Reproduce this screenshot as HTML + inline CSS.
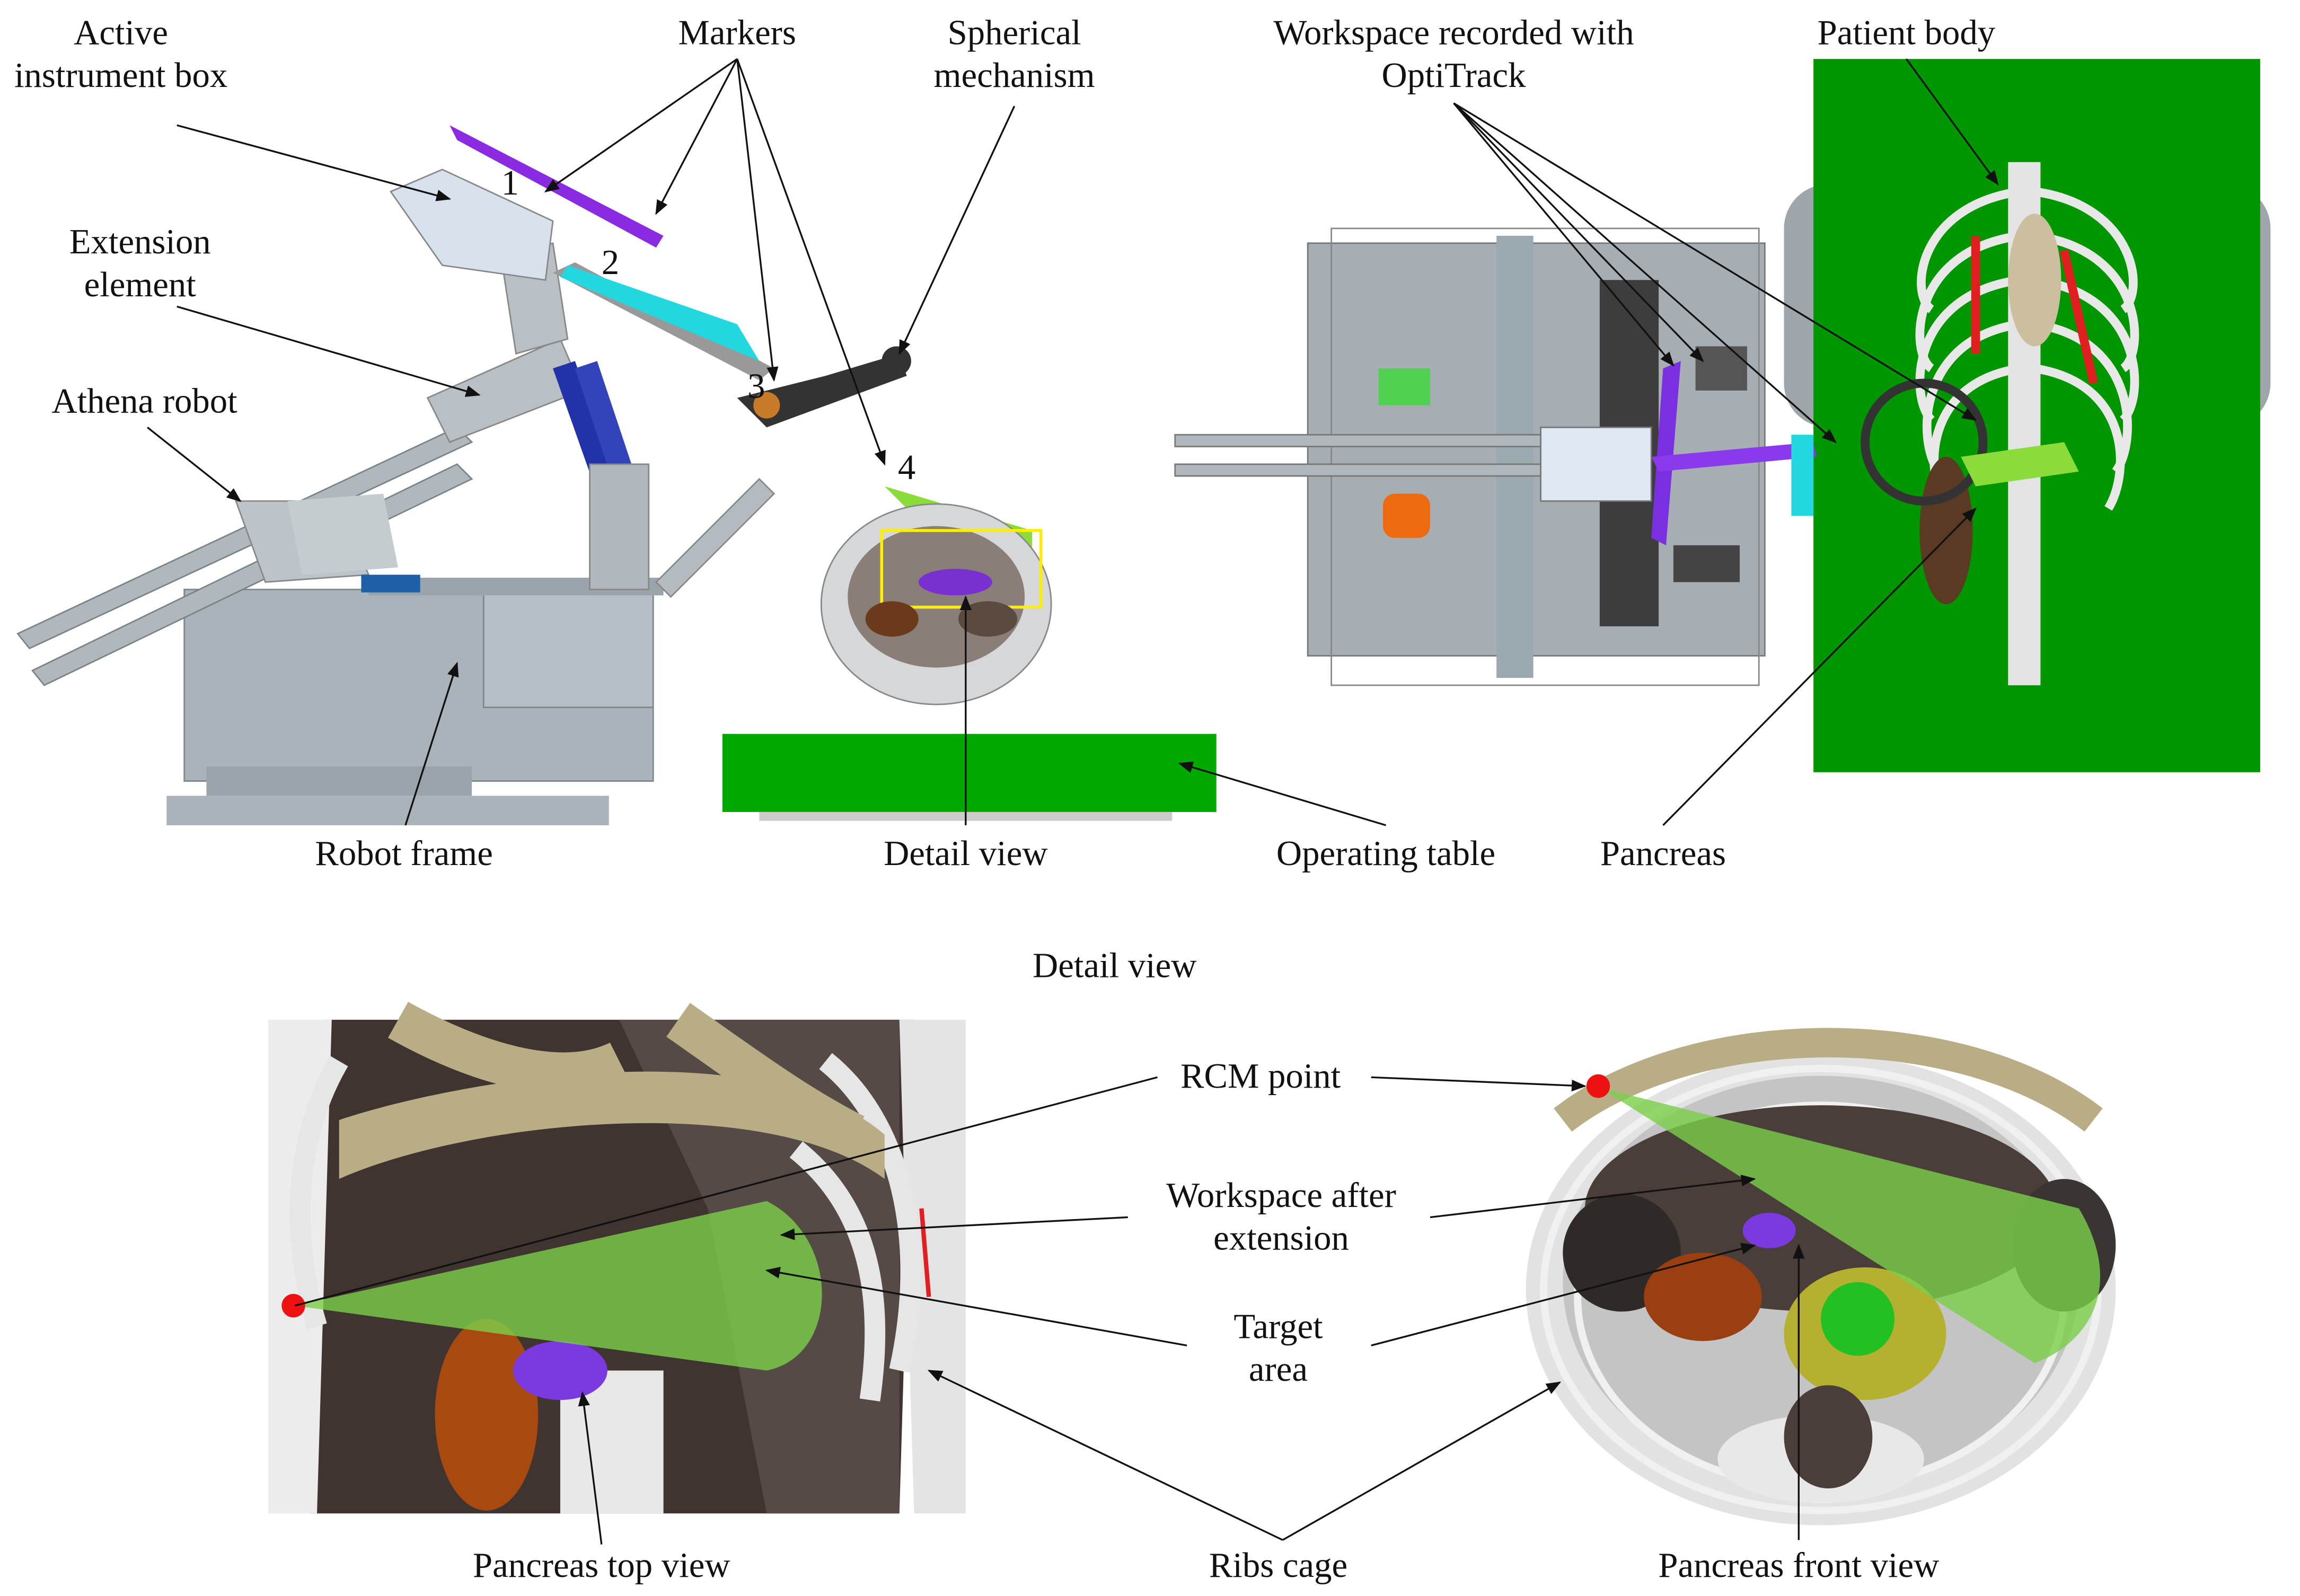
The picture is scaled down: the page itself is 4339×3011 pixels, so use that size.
<!DOCTYPE html>
<html><head><meta charset="utf-8"><style>
html,body{margin:0;padding:0;background:#fff}
svg{display:block}
text{font-family:"Liberation Serif",serif;font-size:24px;fill:#111}
</style></head><body>
<svg width="4339" height="3011" viewBox="0 0 1560 1083" preserveAspectRatio="none" xmlns="http://www.w3.org/2000/svg">
<defs><marker id="a" markerWidth="10" markerHeight="8" refX="9" refY="4" orient="auto" markerUnits="userSpaceOnUse"><path d="M0,0L10,4L0,8z" fill="#111"/></marker></defs>
<rect width="1560" height="1083" fill="#fff"/>

<!-- ===== Top-left robot ===== -->
<rect x="125" y="400" width="318" height="130" fill="#a9b3b9" stroke="#7d878c"/>
<rect x="328" y="400" width="115" height="80" fill="#b6bfc5" stroke="#7d878c"/>
<rect x="113" y="540" width="300" height="20" fill="#a9b3b9"/>
<rect x="140" y="520" width="180" height="20" fill="#9aa4aa"/>
<rect x="250" y="392" width="200" height="12" fill="#9aa4aa"/>
<polygon points="12,430 20,440 320,300 310,290" fill="#b0b8bd" stroke="#7a8388"/>
<polygon points="22,455 30,465 320,325 310,315" fill="#b0b8bd" stroke="#7a8388"/>
<polygon points="160,340 230,340 250,390 180,395" fill="#bcc4c9" stroke="#888"/>
<polygon points="195,340 260,335 270,385 205,390" fill="#c5ccd0"/>
<rect x="245" y="390" width="40" height="12" fill="#1f5fa8"/>
<polygon points="290,270 380,230 395,265 305,300" fill="#b8c0c5" stroke="#888"/>
<polygon points="375,250 390,245 420,330 405,335" fill="#2233aa"/>
<polygon points="390,250 405,245 430,320 415,325" fill="#3344bb"/>
<rect x="400" y="315" width="40" height="85" fill="#b0b8bd" stroke="#888"/>
<polygon points="340,175 375,165 385,230 350,240" fill="#b8c0c5" stroke="#888"/>
<polygon points="265,130 300,115 375,150 370,190 300,180" fill="#d8e2ec" stroke="#888"/>
<polygon points="375,185 390,178 525,250 515,258" fill="#999"/>
<polygon points="445,395 515,325 525,335 455,405" fill="#b3bbc0" stroke="#888"/>
<polygon points="305,85 450,160 445,168 310,95" fill="#8a2be2"/>
<polygon points="385,180 500,220 515,245 380,188" fill="#22d7e0"/>
<polygon points="500,270 560,255 610,240 615,255 520,290" fill="#333"/>
<circle cx="520" cy="275" r="9" fill="#c87a28"/>
<circle cx="608" cy="245" r="10" fill="#333"/>
<polygon points="600,330 700,360 700,375 660,400 620,350" fill="#8bdc3a"/>

<!-- Detail view torso -->
<ellipse cx="635" cy="410" rx="78" ry="68" fill="#d5d7d8" stroke="#888"/>
<ellipse cx="635" cy="405" rx="60" ry="48" fill="#8a7f78"/>
<rect x="598" y="360" width="108" height="52" fill="none" stroke="#ffee00" stroke-width="2"/>
<ellipse cx="648" cy="395" rx="25" ry="9" fill="#7a2fd0"/>
<ellipse cx="605" cy="420" rx="18" ry="12" fill="#6a3a1a"/>
<ellipse cx="670" cy="420" rx="20" ry="12" fill="#5a4a40"/>
<rect x="490" y="498" width="335" height="53" fill="#00a800"/>
<rect x="515" y="551" width="280" height="6" fill="#ccc"/>

<!-- ===== Top-right robot ===== -->
<rect x="1210" y="125" width="330" height="165" rx="30" fill="#9ea6ab"/>
<rect x="1230" y="40" width="303" height="484" fill="#009600"/>
<rect x="887" y="165" width="310" height="280" fill="#a6aeb3" stroke="#777"/>
<rect x="903" y="155" width="290" height="310" fill="none" stroke="#888"/>
<rect x="1085" y="190" width="40" height="235" fill="#3d3d3d"/>
<rect x="1015" y="160" width="25" height="300" fill="#9aa8b0"/>
<rect x="797" y="295" width="250" height="8" fill="#b0b8bd" stroke="#777"/>
<rect x="797" y="315" width="250" height="8" fill="#b0b8bd" stroke="#777"/>
<rect x="1045" y="290" width="75" height="50" fill="#dfe8f2" stroke="#777"/>
<rect x="935" y="250" width="35" height="25" fill="#4fd04f"/>
<rect x="938" y="335" width="32" height="30" rx="8" fill="#ee6a10"/>
<polygon points="1128,250 1140,245 1130,370 1120,365" fill="#7a2fe0"/>
<polygon points="1120,310 1230,300 1232,310 1125,320" fill="#8a3aea"/>
<rect x="1215" y="295" width="15" height="55" fill="#22d7e0"/>
<rect x="1135" y="370" width="45" height="25" fill="#444"/>
<rect x="1150" y="235" width="35" height="30" fill="#555"/>
<!-- skeleton -->
<g stroke="#e8e8e8" stroke-width="6" fill="none">
<path d="M1370,130 C1300,140 1295,200 1310,210"/><path d="M1380,130 C1450,140 1455,200 1440,210"/>
<path d="M1370,160 C1295,170 1295,240 1310,250"/><path d="M1380,160 C1455,170 1455,240 1440,250"/>
<path d="M1370,190 C1295,200 1295,270 1310,285"/><path d="M1380,190 C1455,200 1455,270 1440,285"/>
<path d="M1370,220 C1300,230 1300,300 1315,320"/><path d="M1380,220 C1450,230 1450,300 1435,320"/>
<path d="M1370,250 C1305,260 1305,320 1320,345"/><path d="M1380,250 C1445,260 1445,320 1430,345"/>
</g>
<rect x="1362" y="110" width="22" height="355" fill="#e4e4e4"/>
<ellipse cx="1380" cy="190" rx="18" ry="45" fill="#cbbfa0"/>
<path d="M1340,160 L1340,240 M1400,170 L1420,260" stroke="#e02020" stroke-width="6"/>
<ellipse cx="1320" cy="360" rx="18" ry="50" fill="#5a3a22"/>
<circle cx="1305" cy="300" r="40" fill="none" stroke="#333" stroke-width="6"/>
<polygon points="1330,310 1400,300 1410,320 1340,330" fill="#8bdc3a"/>

<!-- ===== Bottom left detail ===== -->
<rect x="182" y="692" width="473" height="335" fill="#fff"/>
<polygon points="220,692 620,692 610,1027 210,1027" fill="#3f3430"/>
<polygon points="420,692 610,692 610,1027 520,1027 480,820" fill="#554a45"/>
<polygon points="182,692 225,692 215,1027 182,1027" fill="#ececec"/>
<polygon points="610,692 655,692 655,1027 620,1027" fill="#e4e4e4"/>
<g stroke="#e6e6e6" stroke-width="14" fill="none">
<path d="M560,720 C610,760 630,840 610,930"/><path d="M540,780 C590,820 600,880 590,950"/>
<path d="M230,720 C195,780 200,850 215,900"/>
</g>
<path d="M230,760 C320,730 520,700 600,770 L600,800 C520,740 320,760 230,800z" fill="#b9ad85"/>
<path d="M270,692 C320,720 380,740 420,720" stroke="#b9ad85" stroke-width="28" fill="none"/>
<path d="M460,692 C500,720 540,750 580,770" stroke="#b9ad85" stroke-width="28" fill="none"/>
<path d="M625,820 L630,880" stroke="#e02020" stroke-width="3"/>
<ellipse cx="330" cy="960" rx="35" ry="65" fill="#a84a10"/>
<rect x="380" y="930" width="70" height="97" fill="#e8e8e8"/>
<ellipse cx="380" cy="930" rx="32" ry="20" fill="#7a3ae0"/>
<path d="M200,886 L520,815 C570,840 570,920 520,930z" fill="#7ad04a" opacity="0.8"/>
<circle cx="199" cy="886" r="8" fill="#ee1111"/>

<!-- ===== Bottom right detail ===== -->
<ellipse cx="1235" cy="875" rx="200" ry="160" fill="#e2e2e2"/>
<ellipse cx="1235" cy="870" rx="175" ry="140" fill="#c4c4c4"/>
<g stroke="#f0f0f0" stroke-width="5" fill="none">
<ellipse cx="1235" cy="875" rx="188" ry="150"/><ellipse cx="1235" cy="880" rx="165" ry="130"/>
</g>
<path d="M1060,760 C1150,690 1330,690 1420,760" stroke="#b9ad85" stroke-width="20" fill="none"/>
<ellipse cx="1235" cy="820" rx="160" ry="70" fill="#4a3e3a"/>
<ellipse cx="1100" cy="850" rx="40" ry="40" fill="#2f2a28"/>
<ellipse cx="1400" cy="845" rx="35" ry="45" fill="#3a3432"/>
<ellipse cx="1155" cy="880" rx="40" ry="30" fill="#9a4010"/>
<ellipse cx="1200" cy="835" rx="18" ry="12" fill="#7a3ae0"/>
<ellipse cx="1265" cy="905" rx="55" ry="45" fill="#b5b030"/>
<ellipse cx="1260" cy="895" rx="25" ry="25" fill="#22c022"/>
<ellipse cx="1235" cy="990" rx="70" ry="30" fill="#e8e8e8"/>
<ellipse cx="1240" cy="975" rx="30" ry="35" fill="#4a3e3a"/>
<path d="M1085,738 L1410,820 C1440,870 1420,910 1380,925z" fill="#7ad04a" opacity="0.8"/>
<circle cx="1084" cy="737" r="8" fill="#ee1111"/>

<!-- ===== Labels ===== -->
<text x="82" y="30" text-anchor="middle">Active</text>
<text x="82" y="59" text-anchor="middle">instrument box</text>
<text x="500" y="30" text-anchor="middle">Markers</text>
<text x="688" y="30" text-anchor="middle">Spherical</text>
<text x="688" y="59" text-anchor="middle">mechanism</text>
<text x="986" y="30" text-anchor="middle">Workspace recorded with</text>
<text x="986" y="59" text-anchor="middle">OptiTrack</text>
<text x="1293" y="30" text-anchor="middle">Patient body</text>
<text x="95" y="172" text-anchor="middle">Extension</text>
<text x="95" y="201" text-anchor="middle">element</text>
<text x="98" y="280" text-anchor="middle">Athena robot</text>
<text x="274" y="587" text-anchor="middle">Robot frame</text>
<text x="655" y="587" text-anchor="middle">Detail view</text>
<text x="940" y="587" text-anchor="middle">Operating table</text>
<text x="1128" y="587" text-anchor="middle">Pancreas</text>
<text x="756" y="663" text-anchor="middle">Detail view</text>
<text x="855" y="738" text-anchor="middle">RCM point</text>
<text x="869" y="819" text-anchor="middle">Workspace after</text>
<text x="869" y="848" text-anchor="middle">extension</text>
<text x="867" y="908" text-anchor="middle">Target</text>
<text x="867" y="937" text-anchor="middle">area</text>
<text x="408" y="1070" text-anchor="middle">Pancreas top view</text>
<text x="867" y="1070" text-anchor="middle">Ribs cage</text>
<text x="1220" y="1070" text-anchor="middle">Pancreas front view</text>
<text x="340" y="132">1</text><text x="408" y="186">2</text>
<text x="507" y="270">3</text><text x="609" y="325">4</text>

<!-- ===== Leaders ===== -->
<g stroke="#111" stroke-width="1.2" fill="none" marker-end="url(#a)">
<line x1="120" y1="85" x2="305" y2="135"/>
<line x1="500" y1="40" x2="370" y2="130"/>
<line x1="500" y1="40" x2="445" y2="145"/>
<line x1="500" y1="40" x2="525" y2="258"/>
<line x1="500" y1="40" x2="600" y2="315"/>
<line x1="688" y1="72" x2="610" y2="240"/>
<line x1="986" y1="70" x2="1135" y2="248"/>
<line x1="986" y1="70" x2="1155" y2="245"/>
<line x1="986" y1="70" x2="1245" y2="300"/>
<line x1="986" y1="70" x2="1340" y2="285"/>
<line x1="1293" y1="40" x2="1355" y2="125"/>
<line x1="120" y1="208" x2="325" y2="268"/>
<line x1="100" y1="290" x2="163" y2="340"/>
<line x1="275" y1="560" x2="310" y2="450"/>
<line x1="655" y1="560" x2="655" y2="405"/>
<line x1="940" y1="560" x2="800" y2="518"/>
<line x1="1128" y1="560" x2="1340" y2="345"/>
<line x1="930" y1="731" x2="1075" y2="737"/>
<line x1="970" y1="826" x2="1190" y2="800"/>
<line x1="765" y1="826" x2="530" y2="838"/>
<line x1="930" y1="913" x2="1190" y2="845"/>
<line x1="805" y1="913" x2="520" y2="862"/>
<line x1="408" y1="1048" x2="395" y2="945"/>
<line x1="870" y1="1045" x2="630" y2="930"/>
<line x1="870" y1="1045" x2="1058" y2="938"/>
<line x1="1220" y1="1045" x2="1220" y2="845"/>
</g>
<line x1="785" y1="731" x2="200" y2="886" stroke="#111" stroke-width="1.2"/>
</svg>
</body></html>
